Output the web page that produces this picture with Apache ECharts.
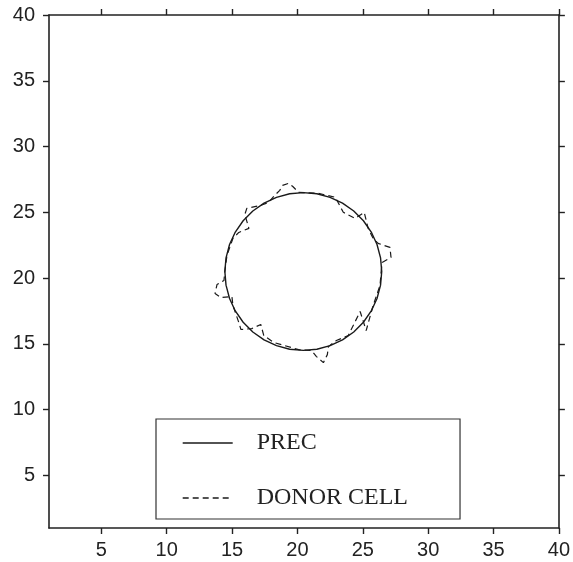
<!DOCTYPE html>
<html>
<head>
<meta charset="utf-8">
<script src="https://cdn.jsdelivr.net/npm/echarts@6/dist/echarts.min.js"></script>
<style>html,body{margin:0;padding:0;background:#fff;}#c{width:573px;height:562px;}</style>
</head>
<body>
<div id="c"></div>
<script>
const xTicks = [5, 10, 15, 20, 25, 30, 35, 40];
const yTicks = [5, 10, 15, 20, 25, 30, 35, 40];
const seriesNames = ['PREC', 'DONOR CELL'];

const precX = [26.45,26.36,26.09,25.65,25.05,24.31,23.45,22.50,21.49,20.45,19.41,18.40,17.45,16.59,15.85,15.25,14.81,14.54,
               14.45,14.54,14.81,15.25,15.85,16.59,17.45,18.40,19.41,20.45,21.49,22.50,23.45,24.31,25.05,25.65,26.09,26.36,26.45];
const precY = [20.50,21.54,22.55,23.50,24.36,25.10,25.70,26.14,26.41,26.50,26.41,26.14,25.70,25.10,24.36,23.50,22.55,21.54,
               20.50,19.46,18.45,17.50,16.64,15.90,15.30,14.86,14.59,14.50,14.59,14.86,15.30,15.90,16.64,17.50,18.45,19.46,20.50];

const donorX = [26.40,26.48,27.16,27.08,26.17,25.79,25.41,25.11,24.42,23.51,22.90,21.61,20.09,19.63,19.33,18.87,18.65,18.19,
                17.81,17.20,16.13,15.98,16.29,15.52,15.07,14.61,14.46,14.38,13.85,13.70,14.16,14.99,15.07,15.52,15.68,16.51,
                17.20,17.43,18.19,20.09,21.08,21.46,21.99,22.29,22.37,22.98,23.89,24.80,25.26,25.79,26.32,26.40];
const donorY = [20.43,21.19,21.57,22.33,22.64,23.02,23.78,25.00,24.54,25.00,26.14,26.44,26.52,26.98,27.20,27.05,26.67,26.21,
                25.76,25.53,25.30,24.84,23.78,23.47,23.02,21.72,20.58,19.82,19.51,18.83,18.52,18.60,17.91,16.62,16.09,16.16,
                16.47,15.63,15.10,14.56,14.49,14.03,13.57,14.18,14.79,15.25,15.63,17.46,16.01,17.91,19.44,20.43];

const zip = (xs, ys) => xs.map((x, i) => [x, ys[i]]);

const axisColor = '#222';
function makeX(pos, show) {
  return {
    type: 'value', position: pos, min: 1, max: 40,
    axisLine: { show: true, onZero: false, lineStyle: { color: axisColor, width: 1.6 } },
    axisTick: { show: true, inside: false, length: 6, customValues: xTicks, lineStyle: { color: axisColor, width: 1.4 } },
    axisLabel: { show: show, customValues: xTicks, margin: 12, color: axisColor, fontSize: 20, fontFamily: 'Liberation Sans, Arial, sans-serif' },
    splitLine: { show: false }
  };
}
function makeY(pos, show) {
  return {
    type: 'value', position: pos, min: 1, max: 40,
    axisLine: { show: true, onZero: false, lineStyle: { color: axisColor, width: 1.6 } },
    axisTick: { show: true, inside: false, length: 6, customValues: yTicks, lineStyle: { color: axisColor, width: 1.4 } },
    axisLabel: { show: show, customValues: yTicks, margin: 14, color: axisColor, fontSize: 20, fontFamily: 'Liberation Sans, Arial, sans-serif' },
    splitLine: { show: false }
  };
}

const chart = echarts.init(document.getElementById('c'), null, { renderer: 'canvas' });
chart.setOption({
  animation: false,
  backgroundColor: '#fff',
  grid: { left: 49, right: 12, top: 15, bottom: 34 },
  xAxis: [makeX('bottom', true), makeX('top', false)],
  yAxis: [makeY('left', true), makeY('right', false)],
  legend: {
    orient: 'vertical',
    left: 156, top: 419,
    backgroundColor: '#fff',
    borderColor: '#333', borderWidth: 1.2,
    padding: [12, 52, 9, 26],
    itemWidth: 50, itemHeight: 24, itemGap: 31,
    itemStyle: { opacity: 0 },
    lineStyle: { width: 1.4, color: '#1a1a1a' },
    textStyle: { fontFamily: 'Liberation Serif, Times New Roman, serif', fontSize: 24, color: '#222', lineHeight: 24, padding: [0, 0, 0, 19] },
    data: seriesNames
  },
  series: [
    {
      name: seriesNames[0], type: 'line', data: zip(precX, precY),
      symbol: 'none', showSymbol: false, smooth: false,
      lineStyle: { color: '#1a1a1a', width: 1.4 }, itemStyle: { color: '#1a1a1a' }
    },
    {
      name: seriesNames[1], type: 'line', data: zip(donorX, donorY),
      symbol: 'none', showSymbol: false, smooth: false,
      lineStyle: { color: '#1a1a1a', width: 1.2, type: [6, 4] }, itemStyle: { color: '#1a1a1a' }
    }
  ]
});
</script>
</body>
</html>
